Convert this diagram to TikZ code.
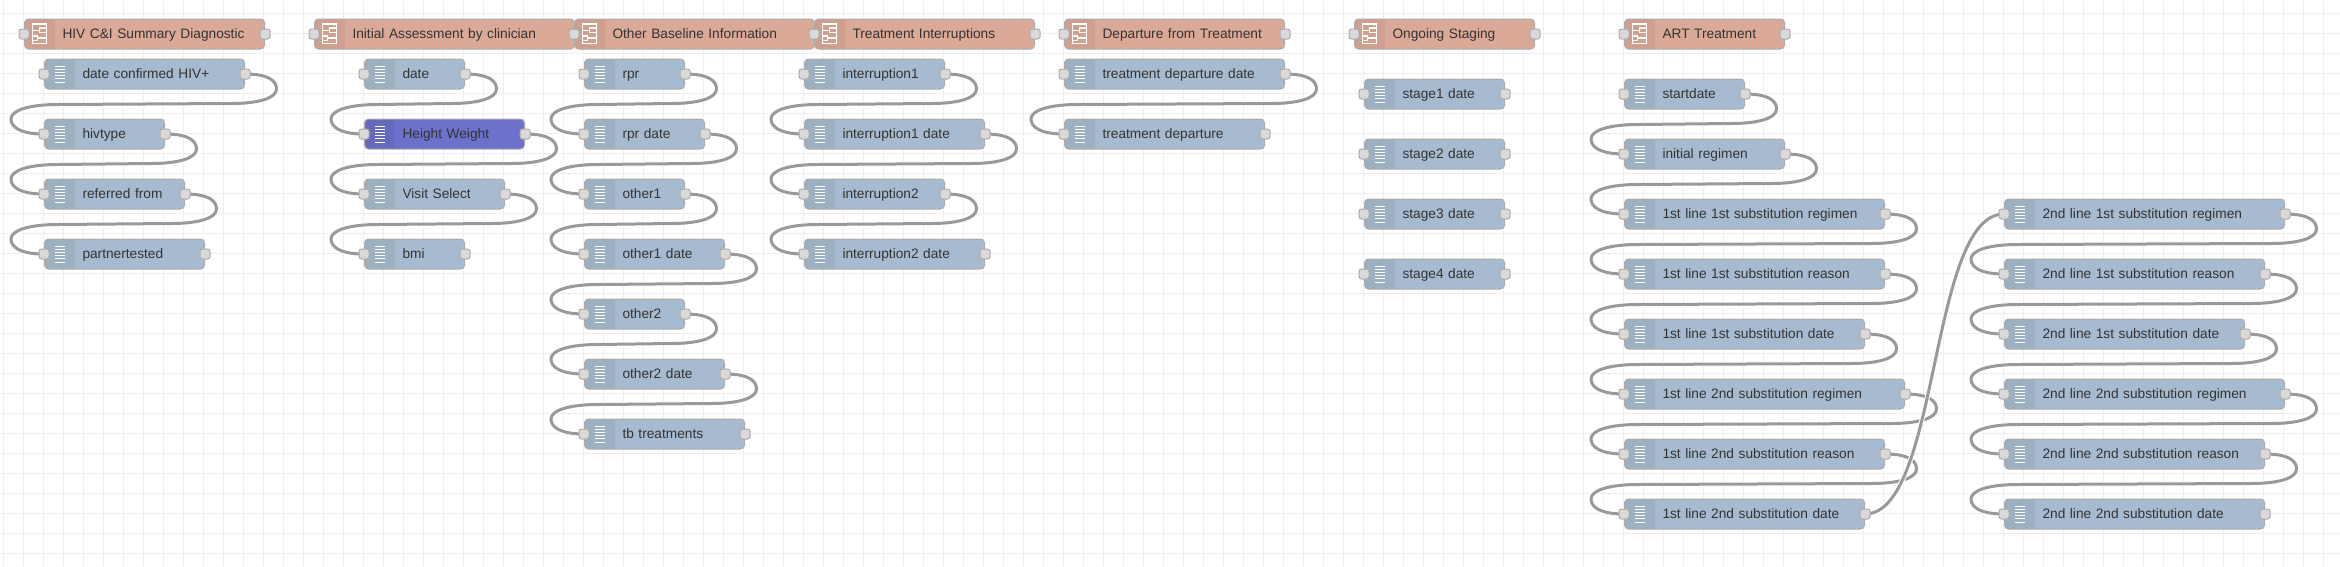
\documentclass[tikz,border=0pt]{standalone}
\usepackage{fontspec}
\setmainfont{Liberation Sans}
\usetikzlibrary{backgrounds}
\definecolor{nodeblue}{HTML}{A6BBCF}
\definecolor{nodepurple}{HTML}{6C71CB}
\definecolor{tabred}{HTML}{DBA998}
\definecolor{lineclr}{HTML}{ABABAB}
\definecolor{wireclr}{HTML}{999999}
\definecolor{gridclr}{HTML}{EEEEEE}
\definecolor{portclr}{HTML}{D9D9D9}
\definecolor{textclr}{HTML}{333333}
\tikzset{
    portbox/.style={draw=lineclr, fill=portclr, line width=1pt, rounded corners=2.5pt, minimum size=10pt, inner sep=0pt},
    bodybox/.style={draw=lineclr, line width=1pt, rounded corners=4pt, anchor=west, inner xsep=0pt, inner ysep=0pt,
        minimum height=30pt, text width=#1, align=left, text height=10pt, text depth=1.5pt, text=textclr,
        font=\fontsize{13.7}{16}\selectfont, execute at begin node={\hspace*{38pt}},
        append after command={\pgfextra{\let\bodyname=\tikzlastnode}
            (\bodyname.west) node[portbox] {} (\bodyname.east) node[portbox] {}}},
    flow/.style={bodybox=#1, fill=nodeblue, path picture={
        \fill[black, opacity=0.06, sharp corners] (path picture bounding box.north west) rectangle ([xshift=30pt]path picture bounding box.south west);
        \foreach \k in {-8,-4.8,-1.6,1.6,4.8,8}
            \draw[white, line width=1pt, sharp corners] ([xshift=10pt, yshift=\k pt]path picture bounding box.west) -- ++(10pt,0pt);}},
    flowsel/.style={flow=#1, fill=nodepurple},
    tabnode/.style={bodybox=#1, fill=tabred, path picture={
        \fill[black, opacity=0.05, sharp corners] (path picture bounding box.north west) rectangle ([xshift=30pt]path picture bounding box.south west);
        \begin{scope}[white, line width=1.2pt, sharp corners]
            \draw ([xshift=8pt, yshift=10pt]path picture bounding box.west) rectangle ++(14pt,-19.5pt);
            \draw ([xshift=8pt, yshift=3.5pt]path picture bounding box.west) -- ++(7pt,0pt) ++(0pt,2.5pt) rectangle ++(7pt,-4.5pt);
            \draw ([xshift=8pt, yshift=-2pt]path picture bounding box.west) rectangle ++(5pt,-4.5pt) ++(0pt,2.5pt) -- ++(9pt,0pt);
        \end{scope}}},
    wire/.style={draw=wireclr, line width=3pt, preaction={draw=white, line width=5pt}},
    loopback/.style={to path={(\tikztostart) .. controls +(24,0) and +(0,-8) .. ++(31.5,15)
        .. controls +(0,9) and +(28,0) .. ++(-45.5,14.5)
        -- ([shift={(14,-29.5)}]\tikztotarget)
        .. controls +(-28,0) and +(0,-9) .. ([shift={(-33,-15)}]\tikztotarget)
        .. controls +(0,8) and +(-24,0) .. (\tikztotarget)}},
    crossover/.style={to path={(\tikztostart) .. controls +(75,0) and +(-75,0) .. (\tikztotarget)}}
}

\begin{document}
\begin{tikzpicture}[x=1pt, y=-1pt]
    \useasboundingbox (0,0) rectangle (2340,566);

    % tabs
    \node[tabnode=240pt] (hivsummary) at (24,34) {HIV C\&I Summary Diagnostic};
    \node[tabnode=260pt] (initialassess) at (314,34) {Initial Assessment by clinician};
    \node[tabnode=240pt] (otherbase) at (574,34) {Other Baseline Information};
    \node[tabnode=220pt] (interrupttab) at (814,34) {Treatment Interruptions};
    \node[tabnode=220pt] (departtab) at (1064,34) {Departure from Treatment};
    \node[tabnode=180pt] (stagingtab) at (1354,34) {Ongoing Staging};
    \node[tabnode=160pt] (arttab) at (1624,34) {ART Treatment};

    % summary
    \node[flow=200pt] (dateconfirmed) at (44,74) {date confirmed HIV+};
    \node[flow=120pt] (hivtype) at (44,134) {hivtype};
    \node[flow=140pt] (referred) at (44,194) {referred from};
    \node[flow=160pt] (partner) at (44,254) {partnertested};

    % assessment
    \node[flow=100pt] (date) at (364,74) {date};
    \node[flowsel=160pt] (heightweight) at (364,134) {Height Weight};
    \node[flow=140pt] (visitselect) at (364,194) {Visit Select};
    \node[flow=100pt] (bmi) at (364,254) {bmi};

    % baseline
    \node[flow=100pt] (rpr) at (584,74) {rpr};
    \node[flow=120pt] (rprdate) at (584,134) {rpr date};
    \node[flow=100pt] (otherone) at (584,194) {other1};
    \node[flow=140pt] (otheronedate) at (584,254) {other1 date};
    \node[flow=100pt] (othertwo) at (584,314) {other2};
    \node[flow=140pt] (othertwodate) at (584,374) {other2 date};
    \node[flow=160pt] (tbtreat) at (584,434) {tb treatments};

    % interruptions
    \node[flow=140pt] (intone) at (804,74) {interruption1};
    \node[flow=180pt] (intonedate) at (804,134) {interruption1 date};
    \node[flow=140pt] (inttwo) at (804,194) {interruption2};
    \node[flow=180pt] (inttwodate) at (804,254) {interruption2 date};

    % departure
    \node[flow=220pt] (departdate) at (1064,74) {treatment departure date};
    \node[flow=200pt] (depart) at (1064,134) {treatment departure};

    % staging
    \node[flow=140pt] (stageone) at (1364,94) {stage1 date};
    \node[flow=140pt] (stagetwo) at (1364,154) {stage2 date};
    \node[flow=140pt] (stagethree) at (1364,214) {stage3 date};
    \node[flow=140pt] (stagefour) at (1364,274) {stage4 date};

    % art first line
    \node[flow=120pt] (startdate) at (1624,94) {startdate};
    \node[flow=160pt] (initreg) at (1624,154) {initial regimen};
    \node[flow=260pt] (aoreg) at (1624,214) {1st line 1st substitution regimen};
    \node[flow=260pt] (aoreason) at (1624,274) {1st line 1st substitution reason};
    \node[flow=240pt] (aodate) at (1624,334) {1st line 1st substitution date};
    \node[flow=280pt] (atreg) at (1624,394) {1st line 2nd substitution regimen};
    \node[flow=260pt] (atreason) at (1624,454) {1st line 2nd substitution reason};
    \node[flow=240pt] (atdate) at (1624,514) {1st line 2nd substitution date};

    % art second line
    \node[flow=280pt] (boreg) at (2004,214) {2nd line 1st substitution regimen};
    \node[flow=260pt] (boreason) at (2004,274) {2nd line 1st substitution reason};
    \node[flow=240pt] (bodate) at (2004,334) {2nd line 1st substitution date};
    \node[flow=280pt] (btreg) at (2004,394) {2nd line 2nd substitution regimen};
    \node[flow=260pt] (btreason) at (2004,454) {2nd line 2nd substitution reason};
    \node[flow=260pt] (btdate) at (2004,514) {2nd line 2nd substitution date};

    \begin{scope}[on background layer]
        \foreach \gx in {0,...,116}
            \draw[gridclr, line width=1pt] (3.5+20*\gx,0) -- (3.5+20*\gx,566);
        \foreach \gy in {0,...,27}
            \draw[gridclr, line width=1pt] (0,13.5+20*\gy) -- (2340,13.5+20*\gy);

        \draw[wire, loopback] (dateconfirmed.east) to (hivtype.west);
        \draw[wire, loopback] (hivtype.east) to (referred.west);
        \draw[wire, loopback] (referred.east) to (partner.west);

        \draw[wire, loopback] (date.east) to (heightweight.west);
        \draw[wire, loopback] (heightweight.east) to (visitselect.west);
        \draw[wire, loopback] (visitselect.east) to (bmi.west);

        \draw[wire, loopback] (rpr.east) to (rprdate.west);
        \draw[wire, loopback] (rprdate.east) to (otherone.west);
        \draw[wire, loopback] (otherone.east) to (otheronedate.west);
        \draw[wire, loopback] (otheronedate.east) to (othertwo.west);
        \draw[wire, loopback] (othertwo.east) to (othertwodate.west);
        \draw[wire, loopback] (othertwodate.east) to (tbtreat.west);

        \draw[wire, loopback] (intone.east) to (intonedate.west);
        \draw[wire, loopback] (intonedate.east) to (inttwo.west);
        \draw[wire, loopback] (inttwo.east) to (inttwodate.west);

        \draw[wire, loopback] (departdate.east) to (depart.west);

        \draw[wire, loopback] (startdate.east) to (initreg.west);
        \draw[wire, loopback] (initreg.east) to (aoreg.west);
        \draw[wire, loopback] (aoreg.east) to (aoreason.west);
        \draw[wire, loopback] (aoreason.east) to (aodate.west);
        \draw[wire, loopback] (aodate.east) to (atreg.west);
        \draw[wire, loopback] (atreg.east) to (atreason.west);
        \draw[wire, loopback] (atreason.east) to (atdate.west);

        \draw[wire, loopback] (boreg.east) to (boreason.west);
        \draw[wire, loopback] (boreason.east) to (bodate.west);
        \draw[wire, loopback] (bodate.east) to (btreg.west);
        \draw[wire, loopback] (btreg.east) to (btreason.west);
        \draw[wire, loopback] (btreason.east) to (btdate.west);

        \draw[wire, crossover] (atdate.east) to (boreg.west);
    \end{scope}
\end{tikzpicture}
\end{document}
